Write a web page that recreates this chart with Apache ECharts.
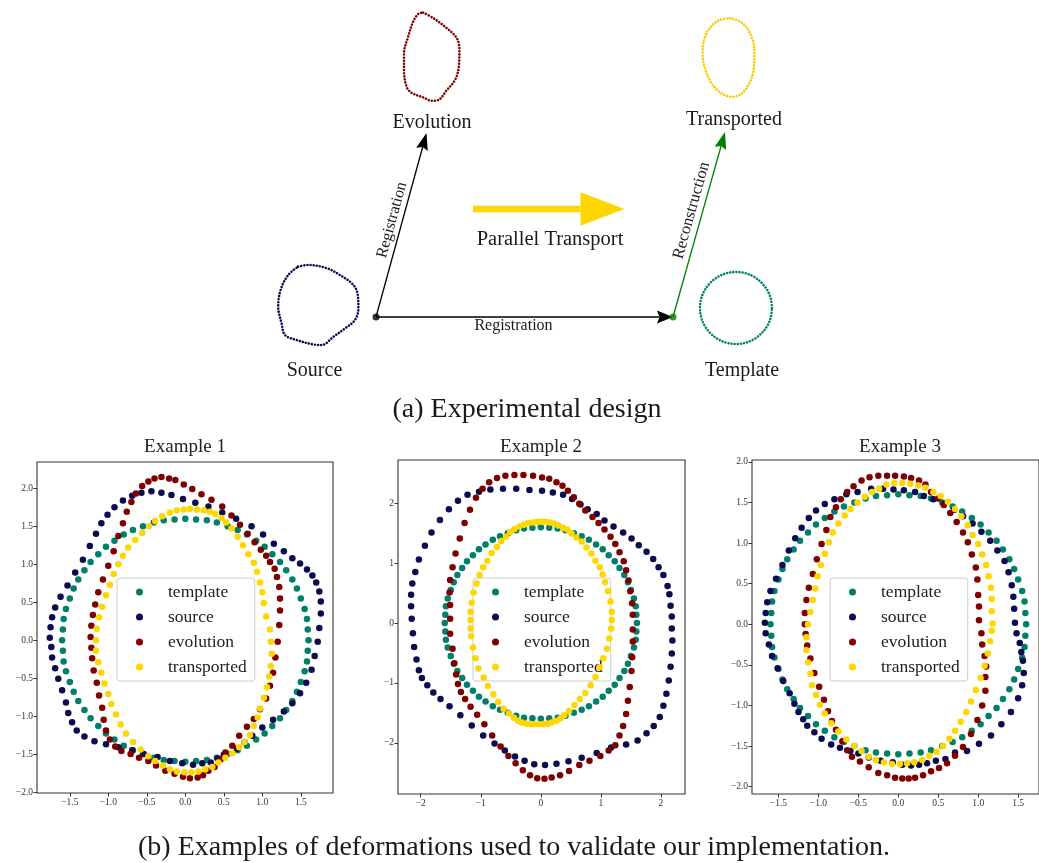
<!DOCTYPE html>
<html>
<head>
<meta charset="utf-8">
<script src="https://cdn.jsdelivr.net/npm/echarts@6/dist/echarts.min.js"></script>
<style>html,body{margin:0;padding:0;background:#fff}#c{width:1039px;height:863px}</style>
</head>
<body>
<div id="c"></div>
<script>
// ---------------- data ----------------
const seriesNames = ['template', 'source', 'evolution', 'transported'];
const exampleTitles = ['Example 1', 'Example 2', 'Example 3'];

// template: circle of radius 1.6 (same in all examples)
const templatePts = [
[1.60,0],[1.59,0.14],[1.58,0.28],[1.55,0.41],[1.50,0.55],[1.45,0.68],[1.39,0.80],[1.31,0.92],[1.23,1.03],[1.13,1.13],[1.03,1.23],[0.92,1.31],[0.80,1.39],[0.68,1.45],[0.55,1.50],[0.41,1.55],[0.28,1.58],[0.14,1.59],
[0,1.60],[-0.14,1.59],[-0.28,1.58],[-0.41,1.55],[-0.55,1.50],[-0.68,1.45],[-0.80,1.39],[-0.92,1.31],[-1.03,1.23],[-1.13,1.13],[-1.23,1.03],[-1.31,0.92],[-1.39,0.80],[-1.45,0.68],[-1.50,0.55],[-1.55,0.41],[-1.58,0.28],[-1.59,0.14],
[-1.60,0],[-1.59,-0.14],[-1.58,-0.28],[-1.55,-0.41],[-1.50,-0.55],[-1.45,-0.68],[-1.39,-0.80],[-1.31,-0.92],[-1.23,-1.03],[-1.13,-1.13],[-1.03,-1.23],[-0.92,-1.31],[-0.80,-1.39],[-0.68,-1.45],[-0.55,-1.50],[-0.41,-1.55],[-0.28,-1.58],[-0.14,-1.59],
[0,-1.60],[0.14,-1.59],[0.28,-1.58],[0.41,-1.55],[0.55,-1.50],[0.68,-1.45],[0.80,-1.39],[0.92,-1.31],[1.03,-1.23],[1.13,-1.13],[1.23,-1.03],[1.31,-0.92],[1.39,-0.80],[1.45,-0.68],[1.50,-0.55],[1.55,-0.41],[1.58,-0.28],[1.59,-0.14]];

const ex1Source = [[1.76,0.35],[1.76,0.51],[1.74,0.64],[1.70,0.76],[1.65,0.85],[1.58,0.93],[1.49,1.01],[1.39,1.08],[1.28,1.17],[1.15,1.27],[1.01,1.39],[0.86,1.50],[0.66,1.60],[0.48,1.68],[0.30,1.76],[0.13,1.81],[-0.03,1.86],[-0.18,1.91],[-0.31,1.94],[-0.44,1.96],[-0.57,1.94],[-0.69,1.90],[-0.81,1.84],[-0.92,1.75],[-1.01,1.65],[-1.09,1.54],[-1.16,1.40],[-1.24,1.24],[-1.33,1.06],[-1.43,0.89],[-1.53,0.72],[-1.62,0.57],[-1.69,0.43],[-1.73,0.30],[-1.75,0.17],[-1.76,0.03],[-1.74,-0.09],[-1.73,-0.23],[-1.69,-0.37],[-1.65,-0.51],[-1.60,-0.66],[-1.55,-0.82],[-1.52,-0.96],[-1.47,-1.08],[-1.41,-1.19],[-1.31,-1.27],[-1.18,-1.33],[-1.03,-1.37],[-0.87,-1.41],[-0.69,-1.45],[-0.54,-1.50],[-0.36,-1.54],[-0.20,-1.59],[-0.04,-1.62],[0.10,-1.64],[0.22,-1.62],[0.33,-1.61],[0.42,-1.56],[0.50,-1.51],[0.67,-1.43],[0.77,-1.34],[0.87,-1.26],[1.00,-1.15],[1.14,-1.05],[1.28,-0.94],[1.39,-0.83],[1.49,-0.70],[1.57,-0.56],[1.64,-0.39],[1.68,-0.21],[1.72,-0.02],[1.74,0.16]];
const ex1Evolution = [[1.22,0.20],[1.23,0.39],[1.23,0.55],[1.22,0.70],[1.19,0.83],[1.16,0.94],[1.10,1.03],[1.05,1.11],[0.98,1.19],[0.90,1.29],[0.81,1.40],[0.71,1.52],[0.60,1.64],[0.48,1.76],[0.34,1.85],[0.21,1.92],[0.09,1.99],[-0.02,2.05],[-0.13,2.11],[-0.21,2.13],[-0.31,2.15],[-0.40,2.13],[-0.48,2.09],[-0.56,2.03],[-0.64,1.93],[-0.70,1.82],[-0.76,1.69],[-0.81,1.54],[-0.87,1.37],[-0.93,1.17],[-1.00,0.98],[-1.07,0.80],[-1.13,0.63],[-1.17,0.47],[-1.20,0.33],[-1.22,0.19],[-1.23,0.04],[-1.22,-0.10],[-1.21,-0.24],[-1.19,-0.40],[-1.15,-0.56],[-1.12,-0.73],[-1.08,-0.89],[-1.06,-1.05],[-1.03,-1.19],[-0.98,-1.31],[-0.91,-1.40],[-0.83,-1.46],[-0.71,-1.50],[-0.60,-1.55],[-0.48,-1.59],[-0.38,-1.65],[-0.26,-1.72],[-0.14,-1.76],[-0.03,-1.80],[0.06,-1.82],[0.16,-1.81],[0.23,-1.78],[0.30,-1.72],[0.38,-1.67],[0.46,-1.57],[0.52,-1.48],[0.61,-1.39],[0.70,-1.26],[0.80,-1.14],[0.89,-1.04],[0.97,-0.91],[1.05,-0.77],[1.10,-0.60],[1.14,-0.43],[1.17,-0.23],[1.20,-0.02]];
const ex1Transported = [[1.10,0.14],[1.05,0.31],[1.02,0.49],[1.00,0.63],[0.97,0.76],[0.93,0.90],[0.89,1.02],[0.82,1.13],[0.75,1.25],[0.68,1.36],[0.60,1.47],[0.53,1.55],[0.47,1.61],[0.39,1.66],[0.32,1.69],[0.24,1.71],[0.15,1.72],[0.06,1.73],[-0.02,1.72],[-0.11,1.71],[-0.20,1.68],[-0.30,1.63],[-0.39,1.57],[-0.47,1.50],[-0.56,1.41],[-0.65,1.32],[-0.74,1.22],[-0.81,1.11],[-0.87,1.00],[-0.93,0.87],[-0.98,0.73],[-1.03,0.59],[-1.08,0.44],[-1.12,0.30],[-1.15,0.15],[-1.16,0.00],[-1.16,-0.14],[-1.13,-0.29],[-1.09,-0.43],[-1.05,-0.57],[-1.00,-0.71],[-0.96,-0.84],[-0.90,-0.98],[-0.84,-1.11],[-0.77,-1.23],[-0.68,-1.34],[-0.58,-1.44],[-0.48,-1.53],[-0.39,-1.59],[-0.29,-1.65],[-0.20,-1.70],[-0.11,-1.73],[-0.01,-1.74],[0.08,-1.74],[0.17,-1.73],[0.26,-1.70],[0.35,-1.67],[0.43,-1.61],[0.52,-1.55],[0.61,-1.49],[0.70,-1.41],[0.77,-1.34],[0.84,-1.25],[0.89,-1.13],[0.94,-1.02],[0.97,-0.90],[1.02,-0.76],[1.06,-0.62],[1.09,-0.48],[1.11,-0.34],[1.12,-0.18],[1.11,-0.02]];

const ex2Source = [[2.18,0.11],[2.16,0.29],[2.14,0.48],[2.11,0.62],[2.04,0.80],[1.96,0.93],[1.87,1.07],[1.76,1.19],[1.63,1.30],[1.51,1.41],[1.37,1.51],[1.21,1.61],[1.06,1.71],[0.93,1.82],[0.78,1.90],[0.66,1.98],[0.52,2.07],[0.37,2.14],[0.20,2.18],[0.02,2.21],[-0.19,2.22],[-0.41,2.24],[-0.63,2.24],[-0.84,2.23],[-1.03,2.19],[-1.22,2.14],[-1.38,2.04],[-1.53,1.90],[-1.68,1.72],[-1.82,1.51],[-1.93,1.29],[-2.03,1.06],[-2.09,0.85],[-2.14,0.66],[-2.16,0.47],[-2.16,0.28],[-2.15,0.07],[-2.13,-0.17],[-2.11,-0.40],[-2.07,-0.61],[-2.03,-0.79],[-1.98,-0.92],[-1.89,-1.04],[-1.79,-1.16],[-1.67,-1.27],[-1.52,-1.39],[-1.34,-1.54],[-1.15,-1.71],[-0.96,-1.88],[-0.77,-2.01],[-0.60,-2.13],[-0.43,-2.23],[-0.27,-2.30],[-0.11,-2.36],[0.07,-2.37],[0.26,-2.35],[0.46,-2.31],[0.68,-2.25],[0.93,-2.17],[1.17,-2.08],[1.42,-2.03],[1.61,-1.96],[1.76,-1.84],[1.88,-1.72],[1.98,-1.57],[2.04,-1.38],[2.09,-1.18],[2.13,-0.96],[2.16,-0.73],[2.18,-0.51],[2.19,-0.29],[2.18,-0.09]];
const ex2Evolution = [[1.53,0.14],[1.52,0.33],[1.49,0.53],[1.46,0.71],[1.42,0.88],[1.38,1.03],[1.31,1.18],[1.24,1.32],[1.16,1.44],[1.06,1.56],[0.96,1.67],[0.86,1.77],[0.74,1.88],[0.64,1.99],[0.55,2.10],[0.45,2.21],[0.36,2.29],[0.26,2.35],[0.14,2.41],[0.02,2.43],[-0.13,2.46],[-0.29,2.47],[-0.44,2.47],[-0.59,2.46],[-0.73,2.42],[-0.86,2.35],[-0.97,2.24],[-1.08,2.09],[-1.18,1.89],[-1.27,1.67],[-1.35,1.41],[-1.42,1.16],[-1.47,0.93],[-1.51,0.72],[-1.52,0.51],[-1.51,0.30],[-1.51,0.07],[-1.51,-0.18],[-1.47,-0.43],[-1.44,-0.67],[-1.41,-0.86],[-1.38,-1.02],[-1.33,-1.15],[-1.26,-1.27],[-1.17,-1.40],[-1.06,-1.53],[-0.94,-1.69],[-0.81,-1.88],[-0.67,-2.06],[-0.54,-2.22],[-0.42,-2.34],[-0.30,-2.46],[-0.18,-2.54],[-0.06,-2.59],[0.06,-2.60],[0.18,-2.58],[0.32,-2.54],[0.47,-2.47],[0.64,-2.37],[0.81,-2.30],[0.99,-2.22],[1.13,-2.13],[1.24,-2.04],[1.31,-1.88],[1.37,-1.72],[1.42,-1.52],[1.45,-1.30],[1.48,-1.07],[1.51,-0.80],[1.52,-0.57],[1.53,-0.31],[1.53,-0.11]];
const ex2Transported = [[1.18,0.05],[1.18,0.19],[1.16,0.36],[1.12,0.53],[1.07,0.68],[1.03,0.81],[0.98,0.93],[0.91,1.04],[0.84,1.16],[0.76,1.26],[0.68,1.36],[0.59,1.43],[0.51,1.50],[0.44,1.56],[0.37,1.59],[0.29,1.63],[0.22,1.66],[0.15,1.68],[0.08,1.69],[0.01,1.69],[-0.06,1.69],[-0.13,1.68],[-0.21,1.67],[-0.28,1.64],[-0.36,1.61],[-0.44,1.57],[-0.51,1.52],[-0.58,1.44],[-0.66,1.37],[-0.73,1.27],[-0.82,1.17],[-0.89,1.04],[-0.96,0.93],[-1.02,0.80],[-1.07,0.66],[-1.12,0.51],[-1.15,0.34],[-1.17,0.19],[-1.17,0.05],[-1.17,-0.09],[-1.16,-0.22],[-1.13,-0.41],[-1.09,-0.59],[-1.04,-0.76],[-0.95,-0.91],[-0.88,-1.05],[-0.79,-1.19],[-0.71,-1.32],[-0.62,-1.43],[-0.53,-1.51],[-0.45,-1.58],[-0.38,-1.63],[-0.32,-1.66],[-0.24,-1.68],[-0.17,-1.69],[-0.11,-1.69],[-0.03,-1.69],[0.04,-1.69],[0.11,-1.68],[0.18,-1.66],[0.26,-1.63],[0.33,-1.59],[0.39,-1.54],[0.47,-1.47],[0.56,-1.37],[0.65,-1.27],[0.74,-1.17],[0.83,-1.04],[0.91,-0.90],[0.98,-0.74],[1.04,-0.59],[1.10,-0.43],[1.14,-0.26],[1.17,-0.09]];

const ex3Source = [[1.46,0.02],[1.45,0.19],[1.44,0.34],[1.42,0.48],[1.38,0.64],[1.33,0.78],[1.24,0.91],[1.15,1.03],[1.04,1.14],[0.93,1.24],[0.81,1.33],[0.70,1.41],[0.57,1.48],[0.44,1.54],[0.32,1.58],[0.21,1.63],[0.07,1.65],[-0.06,1.66],[-0.19,1.67],[-0.34,1.67],[-0.51,1.63],[-0.65,1.60],[-0.80,1.54],[-0.92,1.48],[-1.03,1.40],[-1.12,1.31],[-1.21,1.19],[-1.29,1.06],[-1.37,0.91],[-1.45,0.73],[-1.53,0.56],[-1.60,0.41],[-1.64,0.27],[-1.66,0.14],[-1.67,0.02],[-1.66,-0.11],[-1.62,-0.25],[-1.58,-0.39],[-1.51,-0.54],[-1.44,-0.70],[-1.36,-0.85],[-1.30,-0.98],[-1.25,-1.08],[-1.19,-1.17],[-1.14,-1.25],[-1.05,-1.33],[-0.96,-1.41],[-0.84,-1.48],[-0.73,-1.52],[-0.60,-1.56],[-0.50,-1.59],[-0.37,-1.64],[-0.22,-1.68],[-0.07,-1.70],[0.05,-1.73],[0.16,-1.74],[0.26,-1.73],[0.36,-1.71],[0.47,-1.68],[0.59,-1.66],[0.71,-1.58],[0.86,-1.56],[1.01,-1.47],[1.16,-1.37],[1.29,-1.23],[1.41,-1.08],[1.50,-0.91],[1.55,-0.75],[1.57,-0.60],[1.56,-0.45],[1.54,-0.34],[1.52,-0.23],[1.48,-0.11]];
const ex3Evolution = [[1.01,0.05],[1.01,0.22],[1.00,0.36],[0.99,0.55],[0.97,0.70],[0.92,0.86],[0.87,1.01],[0.81,1.13],[0.73,1.26],[0.65,1.37],[0.57,1.47],[0.50,1.55],[0.41,1.63],[0.34,1.72],[0.26,1.77],[0.16,1.80],[0.07,1.82],[-0.04,1.83],[-0.14,1.83],[-0.25,1.83],[-0.36,1.81],[-0.46,1.77],[-0.56,1.70],[-0.64,1.63],[-0.72,1.54],[-0.78,1.44],[-0.85,1.32],[-0.90,1.16],[-0.96,0.99],[-1.02,0.80],[-1.07,0.62],[-1.12,0.45],[-1.15,0.30],[-1.17,0.14],[-1.17,0.00],[-1.16,-0.12],[-1.14,-0.26],[-1.10,-0.42],[-1.05,-0.60],[-0.99,-0.77],[-0.93,-0.93],[-0.88,-1.07],[-0.83,-1.19],[-0.78,-1.30],[-0.70,-1.44],[-0.64,-1.55],[-0.58,-1.63],[-0.48,-1.69],[-0.37,-1.76],[-0.25,-1.83],[-0.14,-1.86],[-0.04,-1.89],[0.05,-1.90],[0.13,-1.90],[0.21,-1.89],[0.31,-1.86],[0.41,-1.81],[0.51,-1.77],[0.61,-1.71],[0.71,-1.62],[0.81,-1.51],[0.91,-1.35],[0.99,-1.18],[1.05,-1.00],[1.09,-0.82],[1.09,-0.65],[1.10,-0.52],[1.08,-0.39],[1.05,-0.25],[1.04,-0.11]];
const ex3Transported = [[1.18,0.01],[1.17,0.16],[1.17,0.31],[1.16,0.45],[1.13,0.59],[1.10,0.73],[1.05,0.86],[1.00,0.99],[0.93,1.10],[0.87,1.22],[0.79,1.33],[0.71,1.42],[0.62,1.51],[0.53,1.58],[0.44,1.63],[0.34,1.68],[0.25,1.71],[0.15,1.73],[0.05,1.74],[-0.05,1.74],[-0.15,1.72],[-0.24,1.67],[-0.33,1.63],[-0.42,1.57],[-0.51,1.50],[-0.60,1.42],[-0.67,1.34],[-0.75,1.24],[-0.82,1.13],[-0.87,1.01],[-0.92,0.87],[-0.97,0.73],[-1.01,0.59],[-1.04,0.44],[-1.07,0.30],[-1.10,0.15],[-1.13,0.00],[-1.15,-0.16],[-1.15,-0.32],[-1.13,-0.47],[-1.10,-0.61],[-1.08,-0.75],[-1.03,-0.87],[-0.98,-0.99],[-0.92,-1.10],[-0.84,-1.22],[-0.75,-1.32],[-0.65,-1.42],[-0.55,-1.50],[-0.46,-1.56],[-0.37,-1.63],[-0.28,-1.67],[-0.18,-1.70],[-0.08,-1.72],[0.02,-1.72],[0.11,-1.71],[0.20,-1.70],[0.30,-1.67],[0.39,-1.62],[0.48,-1.57],[0.56,-1.50],[0.64,-1.41],[0.71,-1.31],[0.78,-1.20],[0.85,-1.08],[0.91,-0.95],[0.97,-0.81],[1.03,-0.66],[1.08,-0.51],[1.12,-0.36],[1.15,-0.21],[1.17,-0.08]];

const exampleData = [
  [templatePts, ex1Source, ex1Evolution, ex1Transported],
  [templatePts, ex2Source, ex2Evolution, ex2Transported],
  [templatePts, ex3Source, ex3Evolution, ex3Transported]
];

// tick labels
const ex1XTicks = [-1.5,-1,-0.5,0,0.5,1,1.5];
const ex1YTicks = [-2,-1.5,-1,-0.5,0,0.5,1,1.5,2];
const ex2XTicks = [-2,-1,0,1,2];
const ex2YTicks = [-2,-1,0,1,2];
const ex3XTicks = [-1.5,-1,-0.5,0,0.5,1,1.5];
const ex3YTicks = [-2,-1.5,-1,-0.5,0,0.5,1,1.5,2];

// schematic shapes of the experimental design (shape units)
const diagSource = [[-0.99,1.92],[-0.50,2.00],[0.44,1.84],[1.10,1.50],[1.77,1.00],[1.99,0.50],[2.02,-0.17],[1.85,-0.75],[1.35,-1.17],[0.77,-1.59],[0.19,-2.00],[-0.24,-1.97],[-1.07,-1.75],[-1.65,-1.50],[-1.82,-0.92],[-1.99,-0.09],[-1.87,0.75],[-1.49,1.50],[-0.99,1.92]];
const diagEvolution = [[-0.39,2.22],[0.12,1.94],[0.79,1.44],[1.29,0.94],[1.42,0.35],[1.39,-0.49],[1.20,-1.15],[0.79,-1.65],[0.37,-2.15],[0.04,-2.19],[-0.39,-2.02],[-0.97,-1.79],[-1.22,-1.49],[-1.35,-0.65],[-1.35,0.19],[-1.14,1.02],[-0.89,1.77],[-0.64,2.15],[-0.39,2.22]];
const diagTransported = [[0.05,1.94],[0.64,1.72],[1.05,1.19],[1.27,0.35],[1.25,-0.49],[1.05,-1.24],[0.64,-1.82],[0.14,-1.99],[-0.37,-1.82],[-0.87,-1.32],[-1.20,-0.57],[-1.32,0.19],[-1.20,1.02],[-0.87,1.55],[-0.45,1.85],[0.05,1.94]];
const diagTemplate = [[1.8,0],[1.74,0.47],[1.56,0.9],[1.27,1.27],[0.9,1.56],[0.47,1.74],[0,1.8],[-0.47,1.74],[-0.9,1.56],[-1.27,1.27],[-1.56,0.9],[-1.74,0.47],[-1.8,0],[-1.74,-0.47],[-1.56,-0.9],[-1.27,-1.27],[-0.9,-1.56],[-0.47,-1.74],[0,-1.8],[0.47,-1.74],[0.9,-1.56],[1.27,-1.27],[1.56,-0.9],[1.74,-0.47],[1.8,0]];

// ---------------- layout & style ----------------
const FONT = '"Liberation Serif", "DejaVu Serif", serif';
const colors = {template:'#00806a', source:'#0b0b52', evolution:'#800000', transported:'#ffd700'};
const plotGrids = [
  {left:37, top:462, width:296, height:331, xr:[-1.926,1.918], yr:[-2.013,2.346], xt:ex1XTicks, yt:ex1YTicks, dec:1, title:185, legendLeft:117},
  {left:398, top:460, width:287, height:334, xr:[-2.378,2.40], yr:[-2.855,2.722], xt:ex2XTicks, yt:ex2YTicks, dec:0, title:541, legendLeft:473},
  {left:752, top:460, width:292, height:334, xr:[-1.831,1.761], yr:[-2.09,2.023], xt:ex3XTicks, yt:ex3YTicks, dec:1, title:900, legendLeft:830}
];
// diagram frame (pixel-like diagram units) for arrows
const diagramNodes = {origin:[376,317], templateNode:[673,317], evolutionTip:[426.5,133], transportedTip:[725,132], ptStart:[473,209], ptEnd:[624.5,209]};
const arrowEdges = [
  [...diagramNodes.origin, ...diagramNodes.evolutionTip],
  [...diagramNodes.origin, ...diagramNodes.templateNode],
  [...diagramNodes.templateNode, ...diagramNodes.transportedTip],
  [...diagramNodes.ptStart, ...diagramNodes.ptEnd]
];
const arrowStyles = [
  {color:'#000', width:1.3, head:17, half:6, notch:2.5},
  {color:'#000', width:1.3, head:16, half:6.5, notch:2.5},
  {color:'#008000', width:1.3, head:17, half:6, notch:2.5},
  {color:'#ffd700', width:6.7, head:44, half:16.7, notch:0}
];
const shapeBoxes = [
  {data:diagSource, color:colors.source, cx:318, cy:305},
  {data:diagEvolution, color:colors.evolution, cx:431, cy:57},
  {data:diagTransported, color:'#f5cc00', cx:729, cy:57},
  {data:diagTemplate, color:colors.template, cx:736, cy:308}
];

const fmt = dec => v => (v < 0 ? '\u2212' : '') + Math.abs(v).toFixed(dec);

const grid = [], xAxis = [], yAxis = [], series = [], legend = [], title = [];
plotGrids.forEach((g, i) => {
  grid.push({left:g.left, top:g.top, width:g.width, height:g.height, show:true, borderColor:'#333', borderWidth:1.1, backgroundColor:'transparent'});
  const common = (ticks) => ({
    axisLine:{show:false, onZero:false},
    splitLine:{show:false},
    axisTick:{show:true, customValues:ticks, length:3.5, inside:false, lineStyle:{color:'#333', width:1}},
    axisLabel:{customValues:ticks, formatter:fmt(g.dec), fontFamily:FONT, fontSize:9.5, color:'#333', margin:4}
  });
  xAxis.push(Object.assign({gridIndex:i, type:'value', min:g.xr[0], max:g.xr[1]}, common(g.xt)));
  yAxis.push(Object.assign({gridIndex:i, type:'value', min:g.yr[0], max:g.yr[1]}, common(g.yt)));
  seriesNames.forEach((name, k) => {
    series.push({type:'scatter', name, xAxisIndex:i, yAxisIndex:i, data:exampleData[i][k], symbolSize:6.5,
      itemStyle:{color:colors[name], opacity:1}, z:2+k, silent:true, animation:false});
  });
  legend.push({data:seriesNames, orient:'vertical', left:g.legendLeft, top:578, icon:'circle', itemWidth:7, itemHeight:7, itemGap:7,
    padding:[5,8,5,19], backgroundColor:'rgba(255,255,255,0.8)', borderColor:'#cccccc', borderWidth:1, borderRadius:3,
    selectedMode:false, textStyle:{fontFamily:FONT, fontSize:17.5, color:'#222', lineHeight:17, padding:[0,0,0,20]}});
  title.push({text:exampleTitles[i], left:g.title, top:438, textAlign:'center', padding:0,
    textStyle:{fontFamily:FONT, fontSize:19, fontWeight:'normal', color:'#222'}});
});

// diagram grid (index 3)
grid.push({left:0, top:0, width:1039, height:863, show:false});
xAxis.push({gridIndex:3, type:'value', min:0, max:1039, show:false});
yAxis.push({gridIndex:3, type:'value', min:0, max:863, inverse:true, show:false});

// shape grids (index 4..7), 20 px per shape unit
shapeBoxes.forEach((s, j) => {
  const gi = 4 + j;
  grid.push({left:s.cx - 50, top:s.cy - 50, width:100, height:100, show:false});
  xAxis.push({gridIndex:gi, type:'value', min:-2.5, max:2.5, show:false});
  yAxis.push({gridIndex:gi, type:'value', min:-2.5, max:2.5, show:false});
  series.push({type:'line', name:'shape' + j, xAxisIndex:gi, yAxisIndex:gi, data:s.data, smooth:0.35, showSymbol:false, symbol:'none',
    lineStyle:{color:s.color, width:2.6, type:[0.01, 3.1], cap:'round'}, silent:true, animation:false, z:3});
});

series.push({type:'custom', name:'arrows', xAxisIndex:3, yAxisIndex:3, data:arrowEdges, encode:{x:[0,2], y:[1,3]}, silent:true, animation:false, clip:false, z:5,
  renderItem: function (params, api) {
    const st = arrowStyles[params.dataIndex];
    const p1 = api.coord([api.value(0), api.value(1)]);
    const p2 = api.coord([api.value(2), api.value(3)]);
    const dx = p2[0]-p1[0], dy = p2[1]-p1[1], L = Math.hypot(dx, dy);
    const ux = dx/L, uy = dy/L, px = -uy, py = ux;
    const bx = p2[0]-ux*st.head, by = p2[1]-uy*st.head;
    const nx = p2[0]-ux*(st.head-st.notch), ny = p2[1]-uy*(st.head-st.notch);
    return {type:'group', children:[
      {type:'line', shape:{x1:p1[0], y1:p1[1], x2:nx, y2:ny}, style:{stroke:st.color, lineWidth:st.width}},
      {type:'polygon', shape:{points:[[p2[0],p2[1]],[bx+px*st.half,by+py*st.half],[nx,ny],[bx-px*st.half,by-py*st.half]]}, style:{fill:st.color}}
    ]};
  }
});
series.push({type:'scatter', name:'nodes', xAxisIndex:3, yAxisIndex:3, data:[diagramNodes.origin, diagramNodes.templateNode], symbolSize:7,
  itemStyle:{color: p => p.dataIndex === 0 ? '#000' : '#008000'}, silent:true, animation:false, z:6});

const T = (text, x, y, size, rot) => ({type:'text', x, y, rotation:rot || 0, z:10,
  style:{text, font:size + 'px ' + FONT, fill:'#1a1a1a', align:'center', verticalAlign:'middle', textAlign:'center', textVerticalAlign:'middle'}});
const graphic = [
  T('Evolution', 432, 123, 20),
  T('Transported', 734, 120, 20),
  T('Source', 314.5, 370.5, 20),
  T('Template', 742, 371, 20),
  T('Parallel Transport', 550, 240, 20.5),
  T('Registration', 513.5, 326, 16),
  T('Registration', 392, 220, 16, 1.302),
  T('Reconstruction', 691.5, 210.5, 16.5, 1.297),
  T('(a) Experimental design', 527, 410, 28),
  T('(b) Examples of deformations used to validate our implementation.', 514, 848, 28)
];

const chart = echarts.init(document.getElementById('c'), null, {renderer:'canvas'});
chart.setOption({animation:false, backgroundColor:'#fff', grid, xAxis, yAxis, series, legend, title, graphic});
</script>
</body>
</html>
